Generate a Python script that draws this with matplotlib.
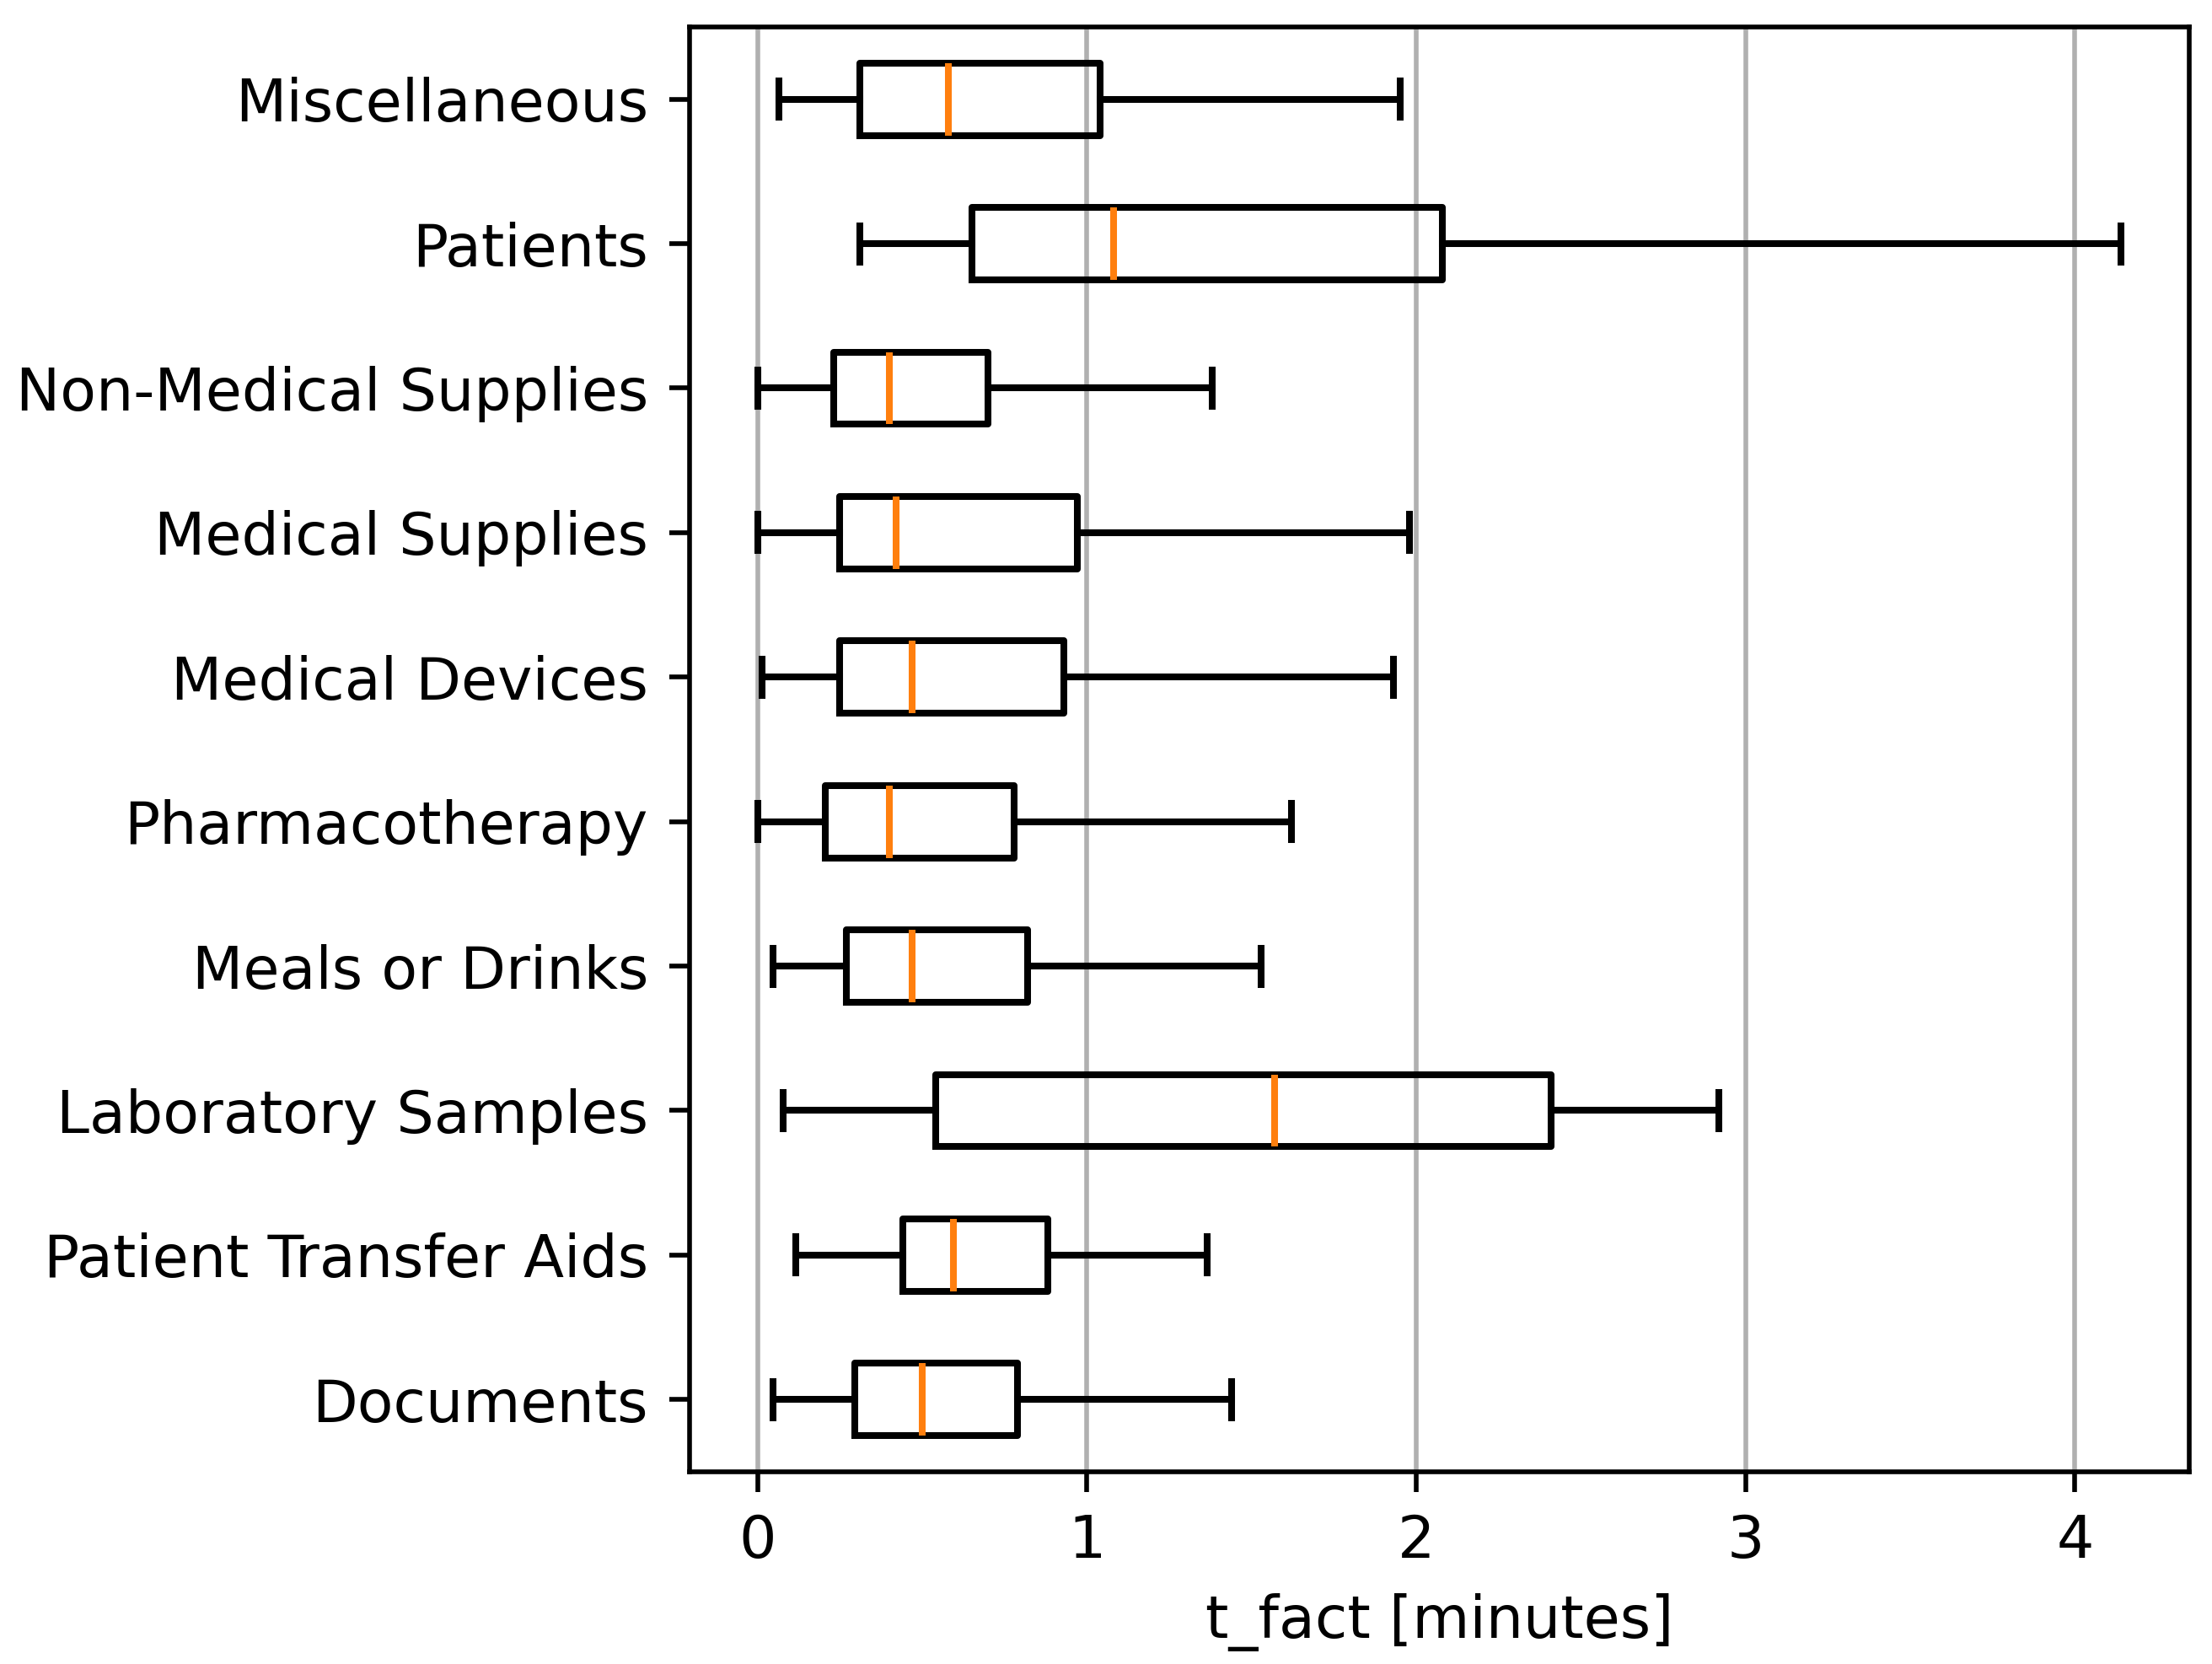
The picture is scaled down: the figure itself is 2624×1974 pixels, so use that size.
import matplotlib as mpl
mpl.use('Agg')
import matplotlib.pyplot as plt

# categories bottom -> top
categories = ['Documents', 'Patient Transfer Aids', 'Laboratory Samples',
              'Meals or Drinks', 'Pharmacotherapy', 'Medical Devices',
              'Medical Supplies', 'Non-Medical Supplies', 'Patients',
              'Miscellaneous']

whislo = [0.047, 0.115, 0.077, 0.047, 0.0, 0.013, 0.0, 0.0, 0.31, 0.064]
q1 = [0.295, 0.44, 0.54, 0.27, 0.205, 0.25, 0.25, 0.23, 0.65, 0.31]
med = [0.50, 0.595, 1.57, 0.47, 0.40, 0.47, 0.42, 0.40, 1.08, 0.58]
q3 = [0.79, 0.88, 2.41, 0.82, 0.78, 0.93, 0.97, 0.70, 2.08, 1.04]
whishi = [1.44, 1.365, 2.92, 1.53, 1.62, 1.93, 1.98, 1.38, 4.14, 1.95]

stats = []
for i, name in enumerate(categories):
    stats.append({'label': name, 'whislo': whislo[i], 'q1': q1[i],
                  'med': med[i], 'q3': q3[i], 'whishi': whishi[i],
                  'fliers': []})

dpi = 503
fig = plt.figure(figsize=(2624 / dpi, 1974 / dpi), dpi=dpi)
ax = fig.add_axes([0.3117, 0.1155, 0.9897 - 0.3117, 0.9838 - 0.1155])

lw = 1.15
ax.bxp(stats, orientation='horizontal', showfliers=False,
       boxprops={'linewidth': lw}, whiskerprops={'linewidth': lw},
       capprops={'linewidth': lw}, medianprops={'linewidth': lw})
ax.grid(True, axis='x')
ax.set_xlabel('t_fact [minutes]')

fig.savefig('out.png', dpi=dpi)
